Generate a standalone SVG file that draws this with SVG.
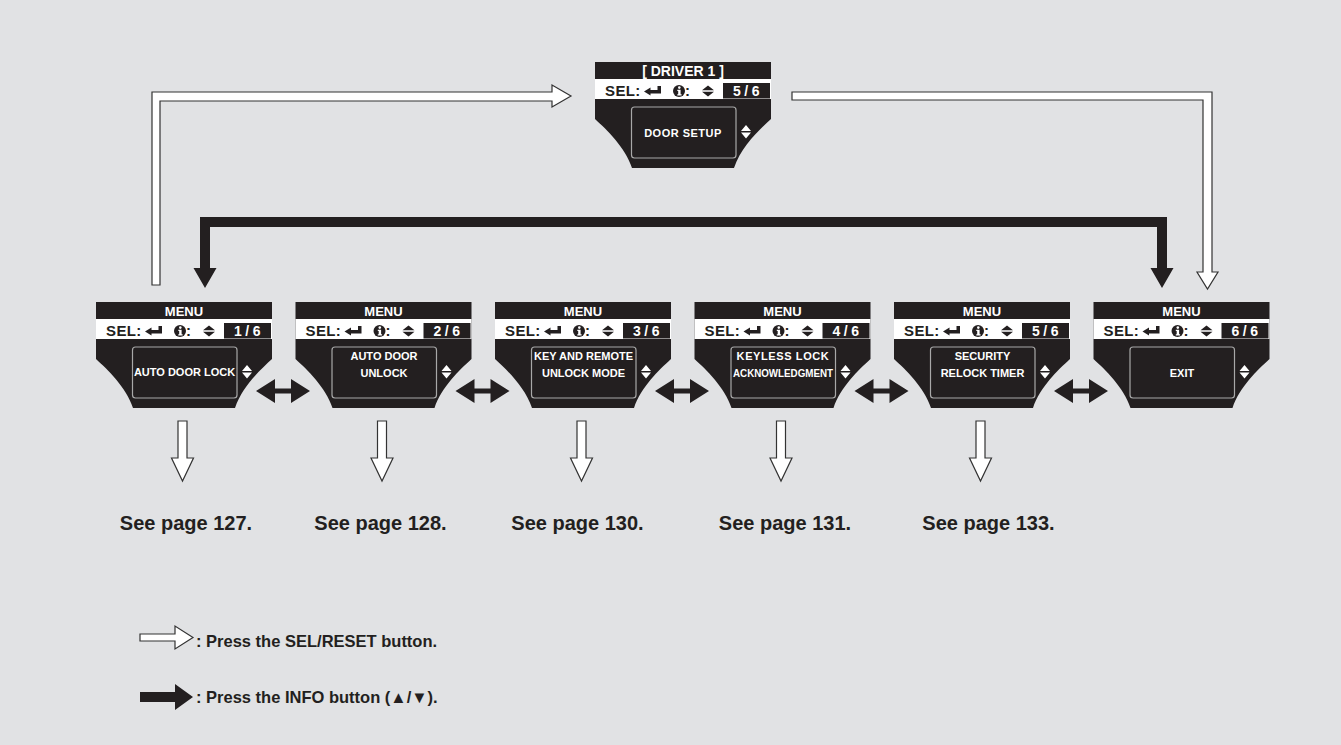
<svg xmlns="http://www.w3.org/2000/svg" xmlns:xlink="http://www.w3.org/1999/xlink" width="1341" height="745" viewBox="0 0 1341 745">
<style>
.hdr{font-family:"Liberation Sans",Arial,sans-serif;font-size:13px;font-weight:bold;fill:#fff;text-anchor:middle}
.drv{font-family:"Liberation Sans",Arial,sans-serif;font-size:14px;font-weight:bold;fill:#fff;text-anchor:middle}
.sel{font-family:"Liberation Sans",Arial,sans-serif;font-size:15px;font-weight:bold;fill:#231f20;letter-spacing:0.4px}
.num{font-family:"Liberation Sans",Arial,sans-serif;font-size:14px;font-weight:bold;fill:#fff;text-anchor:middle;letter-spacing:3.5px}
.box{font-family:"Liberation Sans",Arial,sans-serif;font-size:11px;font-weight:bold;fill:#fff;text-anchor:middle}
.page{font-family:"Liberation Sans",Arial,sans-serif;font-size:20px;font-weight:bold;fill:#231f20;text-anchor:middle}
.leg{font-family:"Liberation Sans",Arial,sans-serif;font-size:16.5px;font-weight:bold;fill:#231f20}
.hollow{fill:#fff;stroke:#333;stroke-width:1.2;stroke-linejoin:miter}
.solid{fill:#231f20}
</style>
<defs>
<g id="disp">
<path d="M0,0 H176 V57 C164,68 146,85 139,106 H37 C30,85 12,68 0,57 Z" fill="#231f20"/>
<rect x="0" y="17" width="176" height="20" fill="#fff"/>
<rect x="128" y="21" width="47" height="15.5" fill="#231f20"/>
<path d="M49,29.5 L55.5,25.5 L55.5,28 L62.5,28 L62.5,24 L66,24 L66,31.5 L55.5,31.5 L55.5,33.5 Z" fill="#231f20"/>
<circle cx="84" cy="29" r="6" fill="#231f20"/>
<circle cx="84.3" cy="25.6" r="1.3" fill="#fff"/>
<path d="M82.3,27.8 H85.6 V32.2 H86.6 V33.4 H82.3 V32.2 H83.2 V29 H82.3 Z" fill="#fff"/>
<path d="M107,28.3 L113,23.5 L119,28.3 Z M107,29.7 L119,29.7 L113,34.5 Z" fill="#231f20"/>
<rect x="36.5" y="45" width="104.5" height="51" rx="3" fill="#231f20" stroke="#a8a8a8" stroke-width="1.2"/>
<path d="M146,69 L151,63 L156,69 Z M146,70.5 L156,70.5 L151,76.5 Z" fill="#fff"/>
</g>
</defs>
<rect width="1341" height="745" fill="#e1e2e4"/>

<g id="connectors">
<path class="hollow" d="M152,285 V92 H552 V85 L571,96 L552,107 V101 H160 V285 Z"/>
<path class="hollow" d="M792,92 H1212 V272 H1218 L1207.5,289 L1197,272 H1203 V100 H792 Z"/>
<path class="solid" d="M200,217 H1167 V268 H1173.5 L1162,288 L1150.5,268 H1157 V227 H210 V268 H216.5 L205,288 L193.5,268 H200 Z"/>
<path class="solid" d="M256,391 L275,379 V388.5 H291 V379 L310,391 L291,403 V393.5 H275 V403 Z"/>
<path class="solid" d="M455.5,391 L474.5,379 V388.5 H490.5 V379 L509.5,391 L490.5,403 V393.5 H474.5 V403 Z"/>
<path class="solid" d="M655,391 L674,379 V388.5 H690 V379 L709,391 L690,403 V393.5 H674 V403 Z"/>
<path class="solid" d="M854.5,391 L873.5,379 V388.5 H889.5 V379 L908.5,391 L889.5,403 V393.5 H873.5 V403 Z"/>
<path class="solid" d="M1054,391 L1073,379 V388.5 H1089 V379 L1108,391 L1089,403 V393.5 H1073 V403 Z"/>
<path class="hollow" d="M178,421 H187 V458 H193.5 L182.5,481 L171.5,458 H178 Z"/>
<path class="hollow" d="M377.5,421 H386.5 V458 H393 L382,481 L371,458 H377.5 Z"/>
<path class="hollow" d="M577,421 H586 V458 H592.5 L581.5,481 L570.5,458 H577 Z"/>
<path class="hollow" d="M776.5,421 H785.5 V458 H792 L781,481 L770,458 H776.5 Z"/>
<path class="hollow" d="M976,421 H985 V458 H991.5 L980.5,481 L969.5,458 H976 Z"/>
</g>

<g id="node-driver" transform="translate(595,62)">
<use xlink:href="#disp" href="#disp"/>
<text class="drv" x="88" y="14">[ DRIVER 1 ]</text>
<text class="sel" x="10" y="34">SEL:</text><text class="sel" x="90" y="34">:</text>
<text class="num" x="153" y="34">5/6</text>
<text class="box" x="88" y="75" font-size="13" letter-spacing="0.5">DOOR SETUP</text>
</g>

<g id="node-1" transform="translate(96,302)">
<use xlink:href="#disp" href="#disp"/>
<text class="hdr" x="88" y="13.5">MENU</text>
<text class="sel" x="10" y="34">SEL:</text><text class="sel" x="90" y="34">:</text>
<text class="num" x="153" y="34">1/6</text>
<text class="box" x="88.5" y="74">AUTO DOOR LOCK</text>
</g>

<g id="node-2" transform="translate(295.5,302)">
<use xlink:href="#disp" href="#disp"/>
<text class="hdr" x="88" y="13.5">MENU</text>
<text class="sel" x="10" y="34">SEL:</text><text class="sel" x="90" y="34">:</text>
<text class="num" x="153" y="34">2/6</text>
<text class="box" x="88.5" y="58">AUTO DOOR</text>
<text class="box" x="88.5" y="75">UNLOCK</text>
</g>

<g id="node-3" transform="translate(495,302)">
<use xlink:href="#disp" href="#disp"/>
<text class="hdr" x="88" y="13.5">MENU</text>
<text class="sel" x="10" y="34">SEL:</text><text class="sel" x="90" y="34">:</text>
<text class="num" x="153" y="34">3/6</text>
<text class="box" x="88.5" y="58">KEY AND REMOTE</text>
<text class="box" x="88.5" y="75">UNLOCK MODE</text>
</g>

<g id="node-4" transform="translate(694.5,302)">
<use xlink:href="#disp" href="#disp"/>
<text class="hdr" x="88" y="13.5">MENU</text>
<text class="sel" x="10" y="34">SEL:</text><text class="sel" x="90" y="34">:</text>
<text class="num" x="153" y="34">4/6</text>
<text class="box" x="88.5" y="58" font-size="10" letter-spacing="0.6">KEYLESS LOCK</text>
<text class="box" x="88.5" y="75" font-size="10" textLength="100" lengthAdjust="spacingAndGlyphs">ACKNOWLEDGMENT</text>
</g>

<g id="node-5" transform="translate(894,302)">
<use xlink:href="#disp" href="#disp"/>
<text class="hdr" x="88" y="13.5">MENU</text>
<text class="sel" x="10" y="34">SEL:</text><text class="sel" x="90" y="34">:</text>
<text class="num" x="153" y="34">5/6</text>
<text class="box" x="88.5" y="58">SECURITY</text>
<text class="box" x="88.5" y="75">RELOCK TIMER</text>
</g>

<g id="node-6" transform="translate(1093.5,302)">
<use xlink:href="#disp" href="#disp"/>
<text class="hdr" x="88" y="13.5">MENU</text>
<text class="sel" x="10" y="34">SEL:</text><text class="sel" x="90" y="34">:</text>
<text class="num" x="153" y="34">6/6</text>
<text class="box" x="88.5" y="75">EXIT</text>
</g>

<g id="pages">
<text class="page" x="186" y="530">See page 127.</text>
<text class="page" x="380.5" y="530">See page 128.</text>
<text class="page" x="577.5" y="530">See page 130.</text>
<text class="page" x="785" y="530">See page 131.</text>
<text class="page" x="988.5" y="530">See page 133.</text>
</g>

<g id="legend">
<path class="hollow" d="M140,634 H175 V626 L193,637.5 L175,649 V641 H140 Z"/>
<text class="leg" x="196" y="647">: Press the SEL/RESET button.</text>
<path class="solid" d="M140,692 H175 V684 L193,697 L175,710 V702 H140 Z"/>
<text class="leg" x="196" y="703">: Press the INFO button (▲/▼).</text>
</g>
</svg>
